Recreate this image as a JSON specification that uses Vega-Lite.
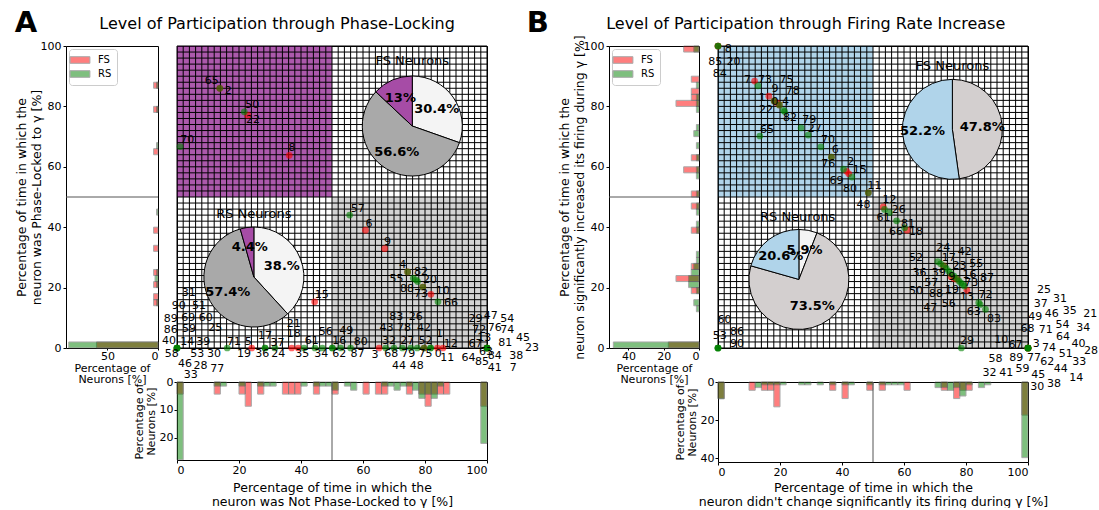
{
"$schema": "https://vega.github.io/schema/vega-lite/v6.json",
"padding": {"left": 14, "top": 8, "right": 0, "bottom": 0},
"config": {
  "font": "DejaVu Sans",
  "view": {"stroke": "black", "strokeWidth": 1},
  "axis": {"labelFontSize": 11, "labelColor": "#000", "tickColor": "#000", "domain": false, "tickSize": 3, "labelPadding": 1, "titleFontWeight": "normal", "titleColor": "#000", "grid": false, "labelFont": "DejaVu Sans", "titleFont": "DejaVu Sans"},
  "text": {"font": "DejaVu Sans"}
},
"datasets": {
  "gr": [{"g":0},{"g":2},{"g":4},{"g":6},{"g":8},{"g":10},{"g":12},{"g":14},{"g":16},{"g":18},{"g":20},{"g":22},{"g":24},{"g":26},{"g":28},{"g":30},{"g":32},{"g":34},{"g":36},{"g":38},{"g":40},{"g":42},{"g":44},{"g":46},{"g":48},{"g":50},{"g":52},{"g":54},{"g":56},{"g":58},{"g":60},{"g":62},{"g":64},{"g":66},{"g":68},{"g":70},{"g":72},{"g":74},{"g":76},{"g":78},{"g":80},{"g":82},{"g":84},{"g":86},{"g":88},{"g":90},{"g":92},{"g":94},{"g":96},{"g":98},{"g":100}],
  "hAL": [
    {"t":"FS","lo":86,"hi":88,"p":4.35},{"t":"FS","lo":78,"hi":80,"p":4.35},{"t":"FS","lo":64,"hi":66,"p":4.35},{"t":"FS","lo":38,"hi":40,"p":4.35},{"t":"FS","lo":32,"hi":34,"p":4.35},{"t":"FS","lo":24,"hi":26,"p":4.35},{"t":"FS","lo":20,"hi":22,"p":4.35},{"t":"FS","lo":16,"hi":18,"p":4.35},{"t":"FS","lo":14,"hi":16,"p":4.35},{"t":"FS","lo":0,"hi":2,"p":60.87},
    {"t":"RS","lo":86,"hi":88,"p":1.47},{"t":"RS","lo":78,"hi":80,"p":1.47},{"t":"RS","lo":66,"hi":68,"p":1.47},{"t":"RS","lo":44,"hi":46,"p":1.47},{"t":"RS","lo":24,"hi":26,"p":1.47},{"t":"RS","lo":22,"hi":24,"p":2.94},{"t":"RS","lo":20,"hi":22,"p":1.47},{"t":"RS","lo":14,"hi":16,"p":1.47},{"t":"RS","lo":0,"hi":2,"p":88.24}
  ],
  "hAB": [
    {"t":"FS","lo":0,"hi":2,"p":4.35},{"t":"FS","lo":12,"hi":14,"p":4.35},{"t":"FS","lo":20,"hi":22,"p":4.35},{"t":"FS","lo":22,"hi":24,"p":8.70},{"t":"FS","lo":26,"hi":28,"p":4.35},{"t":"FS","lo":34,"hi":36,"p":4.35},{"t":"FS","lo":36,"hi":38,"p":4.35},{"t":"FS","lo":38,"hi":40,"p":4.35},{"t":"FS","lo":44,"hi":46,"p":4.35},{"t":"FS","lo":50,"hi":52,"p":4.35},{"t":"FS","lo":60,"hi":62,"p":4.35},{"t":"FS","lo":64,"hi":66,"p":4.35},{"t":"FS","lo":66,"hi":68,"p":4.35},{"t":"FS","lo":74,"hi":76,"p":4.35},{"t":"FS","lo":78,"hi":80,"p":4.35},{"t":"FS","lo":80,"hi":82,"p":8.70},{"t":"FS","lo":82,"hi":84,"p":4.35},{"t":"FS","lo":84,"hi":86,"p":4.35},{"t":"FS","lo":86,"hi":88,"p":4.35},{"t":"FS","lo":98,"hi":100,"p":8.70},
    {"t":"RS","lo":0,"hi":2,"p":27.94},{"t":"RS","lo":12,"hi":14,"p":1.47},{"t":"RS","lo":14,"hi":16,"p":1.47},{"t":"RS","lo":20,"hi":22,"p":1.47},{"t":"RS","lo":26,"hi":28,"p":1.47},{"t":"RS","lo":28,"hi":30,"p":1.47},{"t":"RS","lo":30,"hi":32,"p":1.47},{"t":"RS","lo":40,"hi":42,"p":1.47},{"t":"RS","lo":44,"hi":46,"p":1.47},{"t":"RS","lo":46,"hi":48,"p":1.47},{"t":"RS","lo":48,"hi":50,"p":1.47},{"t":"RS","lo":50,"hi":52,"p":2.94},{"t":"RS","lo":54,"hi":56,"p":1.47},{"t":"RS","lo":56,"hi":58,"p":2.94},{"t":"RS","lo":66,"hi":68,"p":1.47},{"t":"RS","lo":68,"hi":70,"p":1.47},{"t":"RS","lo":70,"hi":72,"p":2.94},{"t":"RS","lo":72,"hi":74,"p":1.47},{"t":"RS","lo":74,"hi":76,"p":1.47},{"t":"RS","lo":76,"hi":78,"p":2.94},{"t":"RS","lo":78,"hi":80,"p":5.88},{"t":"RS","lo":80,"hi":82,"p":4.41},{"t":"RS","lo":82,"hi":84,"p":5.88},{"t":"RS","lo":84,"hi":86,"p":1.47},{"t":"RS","lo":98,"hi":100,"p":22.06}
  ],
  "hBL": [
    {"t":"FS","lo":98,"hi":100,"p":8.70},{"t":"FS","lo":88,"hi":90,"p":4.35},{"t":"FS","lo":84,"hi":86,"p":4.35},{"t":"FS","lo":82,"hi":84,"p":4.35},{"t":"FS","lo":80,"hi":82,"p":13.04},{"t":"FS","lo":62,"hi":64,"p":4.35},{"t":"FS","lo":58,"hi":60,"p":8.70},{"t":"FS","lo":50,"hi":52,"p":4.35},{"t":"FS","lo":46,"hi":48,"p":4.35},{"t":"FS","lo":38,"hi":40,"p":4.35},{"t":"FS","lo":26,"hi":28,"p":4.35},{"t":"FS","lo":22,"hi":24,"p":13.04},{"t":"FS","lo":18,"hi":20,"p":4.35},{"t":"FS","lo":0,"hi":2,"p":17.39},
    {"t":"RS","lo":98,"hi":100,"p":2.94},{"t":"RS","lo":86,"hi":88,"p":1.47},{"t":"RS","lo":82,"hi":84,"p":1.47},{"t":"RS","lo":80,"hi":82,"p":1.47},{"t":"RS","lo":78,"hi":80,"p":1.47},{"t":"RS","lo":72,"hi":74,"p":1.47},{"t":"RS","lo":70,"hi":72,"p":2.94},{"t":"RS","lo":66,"hi":68,"p":1.47},{"t":"RS","lo":62,"hi":64,"p":1.47},{"t":"RS","lo":58,"hi":60,"p":1.47},{"t":"RS","lo":56,"hi":58,"p":1.47},{"t":"RS","lo":50,"hi":52,"p":1.47},{"t":"RS","lo":46,"hi":48,"p":1.47},{"t":"RS","lo":44,"hi":46,"p":1.47},{"t":"RS","lo":40,"hi":42,"p":1.47},{"t":"RS","lo":38,"hi":40,"p":1.47},{"t":"RS","lo":30,"hi":32,"p":1.47},{"t":"RS","lo":28,"hi":30,"p":1.47},{"t":"RS","lo":26,"hi":28,"p":2.94},{"t":"RS","lo":24,"hi":26,"p":4.41},{"t":"RS","lo":22,"hi":24,"p":5.88},{"t":"RS","lo":20,"hi":22,"p":5.88},{"t":"RS","lo":18,"hi":20,"p":1.47},{"t":"RS","lo":14,"hi":16,"p":2.94},{"t":"RS","lo":12,"hi":14,"p":1.47},{"t":"RS","lo":0,"hi":2,"p":48.53}
  ],
  "hBB": [
    {"t":"FS","lo":0,"hi":2,"p":8.70},{"t":"FS","lo":10,"hi":12,"p":4.35},{"t":"FS","lo":14,"hi":16,"p":4.35},{"t":"FS","lo":16,"hi":18,"p":4.35},{"t":"FS","lo":18,"hi":20,"p":13.04},{"t":"FS","lo":36,"hi":38,"p":4.35},{"t":"FS","lo":40,"hi":42,"p":8.70},{"t":"FS","lo":48,"hi":50,"p":4.35},{"t":"FS","lo":52,"hi":54,"p":4.35},{"t":"FS","lo":60,"hi":62,"p":4.35},{"t":"FS","lo":72,"hi":74,"p":4.35},{"t":"FS","lo":76,"hi":78,"p":8.70},{"t":"FS","lo":78,"hi":80,"p":4.35},{"t":"FS","lo":80,"hi":82,"p":4.35},{"t":"FS","lo":98,"hi":100,"p":17.39},
    {"t":"RS","lo":0,"hi":2,"p":8.82},{"t":"RS","lo":12,"hi":14,"p":2.94},{"t":"RS","lo":14,"hi":16,"p":1.47},{"t":"RS","lo":16,"hi":18,"p":1.47},{"t":"RS","lo":18,"hi":20,"p":1.47},{"t":"RS","lo":20,"hi":22,"p":1.47},{"t":"RS","lo":26,"hi":28,"p":1.47},{"t":"RS","lo":28,"hi":30,"p":1.47},{"t":"RS","lo":32,"hi":34,"p":1.47},{"t":"RS","lo":36,"hi":38,"p":1.47},{"t":"RS","lo":40,"hi":42,"p":1.47},{"t":"RS","lo":42,"hi":44,"p":1.47},{"t":"RS","lo":48,"hi":50,"p":1.47},{"t":"RS","lo":52,"hi":54,"p":1.47},{"t":"RS","lo":54,"hi":56,"p":1.47},{"t":"RS","lo":56,"hi":58,"p":1.47},{"t":"RS","lo":58,"hi":60,"p":1.47},{"t":"RS","lo":70,"hi":72,"p":2.94},{"t":"RS","lo":72,"hi":74,"p":2.94},{"t":"RS","lo":74,"hi":76,"p":4.41},{"t":"RS","lo":76,"hi":78,"p":2.94},{"t":"RS","lo":78,"hi":80,"p":7.35},{"t":"RS","lo":80,"hi":82,"p":1.47},{"t":"RS","lo":84,"hi":86,"p":2.94},{"t":"RS","lo":86,"hi":88,"p":1.47},{"t":"RS","lo":98,"hi":100,"p":39.71}
  ],
  "qA": [{"c":"QP","x1":0,"x2":50,"y1":50,"y2":100},{"c":"QG","x1":50,"x2":100,"y1":0,"y2":50}],
  "qB": [{"c":"QB","x1":0,"x2":50,"y1":50,"y2":100},{"c":"QG","x1":50,"x2":100,"y1":0,"y2":50}],
  "pA": [
    {"t":"FS","x":13.8,"y":86},{"t":"FS","x":22.8,"y":77.1},{"t":"FS","x":36.2,"y":63.8},{"t":"FS","x":60.8,"y":39},{"t":"FS","x":67,"y":32.9},{"t":"FS","x":74.4,"y":25.2},{"t":"FS","x":79.3,"y":20.2},{"t":"FS","x":81.9,"y":17.8},{"t":"FS","x":44.4,"y":15.3},
    {"t":"FS","x":24.1,"y":0},{"t":"FS","x":37,"y":0},{"t":"FS","x":39.1,"y":0},{"t":"FS","x":65.2,"y":0},{"t":"FS","x":79.7,"y":0},{"t":"FS","x":84,"y":0},{"t":"FS","x":85.8,"y":0},{"t":"FS","x":100,"y":0},{"t":"FS","x":100,"y":0},
    {"t":"RS","x":13.8,"y":86},{"t":"RS","x":21.7,"y":78.2},{"t":"RS","x":1,"y":66.7},{"t":"RS","x":55.7,"y":44},{"t":"RS","x":74.4,"y":25.2},{"t":"RS","x":76.2,"y":23.1},{"t":"RS","x":77.6,"y":22},{"t":"RS","x":77.1,"y":22.6},{"t":"RS","x":79.3,"y":20.2},{"t":"RS","x":84.2,"y":15.3},
    {"t":"RS","x":0,"y":0},{"t":"RS","x":0,"y":0},{"t":"RS","x":0,"y":0},{"t":"RS","x":0,"y":0},{"t":"RS","x":0,"y":0},
    {"t":"RS","x":16.2,"y":0},{"t":"RS","x":28.4,"y":0},{"t":"RS","x":28.4,"y":0},{"t":"RS","x":31.6,"y":0},{"t":"RS","x":41,"y":0},{"t":"RS","x":44.5,"y":0},{"t":"RS","x":46.9,"y":0},{"t":"RS","x":50.1,"y":0},{"t":"RS","x":50.1,"y":0},{"t":"RS","x":52.8,"y":0},{"t":"RS","x":56,"y":0},{"t":"RS","x":67.3,"y":0},{"t":"RS","x":70,"y":0},{"t":"RS","x":72.7,"y":0},{"t":"RS","x":75.4,"y":0},{"t":"RS","x":77.5,"y":0},{"t":"RS","x":79.7,"y":0},{"t":"RS","x":81.8,"y":0},{"t":"RS","x":81.8,"y":0},
    {"t":"RS","x":100,"y":0},{"t":"RS","x":100,"y":0},{"t":"RS","x":100,"y":0},{"t":"RS","x":100,"y":0},{"t":"RS","x":100,"y":0}
  ],
  "pB": [
    {"t":"FS","x":0,"y":100},{"t":"FS","x":0,"y":100},{"t":"FS","x":11.8,"y":88.4},{"t":"FS","x":16.4,"y":83.4},{"t":"FS","x":18.1,"y":81.8},{"t":"FS","x":19.8,"y":80.5},{"t":"FS","x":19,"y":81.2},{"t":"FS","x":36.6,"y":63.2},{"t":"FS","x":42.2,"y":57.7},{"t":"FS","x":41.5,"y":58.5},{"t":"FS","x":48.5,"y":51.4},{"t":"FS","x":53.3,"y":46.7},{"t":"FS","x":61,"y":39},{"t":"FS","x":72.8,"y":27.2},{"t":"FS","x":75.2,"y":23.6},{"t":"FS","x":76.1,"y":23},{"t":"FS","x":77,"y":22.8},{"t":"FS","x":80.3,"y":19.1},{"t":"FS","x":100,"y":0},{"t":"FS","x":100,"y":0},{"t":"FS","x":100,"y":0},{"t":"FS","x":100,"y":0},
    {"t":"RS","x":0,"y":100},{"t":"RS","x":0,"y":100},{"t":"RS","x":12.9,"y":86.8},{"t":"RS","x":18.1,"y":81.8},{"t":"RS","x":19.8,"y":80.5},{"t":"RS","x":21.1,"y":78.7},{"t":"RS","x":21.5,"y":78.3},{"t":"RS","x":13.5,"y":70.2},{"t":"RS","x":26.8,"y":72.9},{"t":"RS","x":29.1,"y":70.5},{"t":"RS","x":33.2,"y":66.6},{"t":"RS","x":36.6,"y":63.2},{"t":"RS","x":40.5,"y":59.2},{"t":"RS","x":43.2,"y":56.6},{"t":"RS","x":48.5,"y":51.4},{"t":"RS","x":53.7,"y":45.9},{"t":"RS","x":55.3,"y":44.8},{"t":"RS","x":57.6,"y":42.1},{"t":"RS","x":60.2,"y":39.8},
    {"t":"RS","x":70.9,"y":28.6},{"t":"RS","x":71.8,"y":27.9},{"t":"RS","x":72.8,"y":27.2},{"t":"RS","x":73.6,"y":26.4},{"t":"RS","x":74.4,"y":25.5},{"t":"RS","x":75.2,"y":24.6},{"t":"RS","x":76.1,"y":23.8},{"t":"RS","x":76.9,"y":23},{"t":"RS","x":77.7,"y":22.2},{"t":"RS","x":78.3,"y":21.6},{"t":"RS","x":79,"y":21.1},{"t":"RS","x":79.5,"y":20.5},{"t":"RS","x":84.1,"y":15},{"t":"RS","x":84.6,"y":14.4},{"t":"RS","x":86.3,"y":12.8},{"t":"RS","x":78.5,"y":0},
    {"t":"RS","x":0,"y":0},{"t":"RS","x":0,"y":0},{"t":"RS","x":0,"y":0},{"t":"RS","x":0,"y":0},
    {"t":"RS","x":100,"y":0},{"t":"RS","x":100,"y":0},{"t":"RS","x":100,"y":0},{"t":"RS","x":100,"y":0},{"t":"RS","x":100,"y":0},{"t":"RS","x":100,"y":0}
  ],
  "lA": [
    {"id":"65","lx":11.2,"ly":88.4},{"id":"2","lx":16.5,"ly":85.1},{"id":"50","lx":24.3,"ly":80.5},{"id":"22","lx":24.5,"ly":75.4},{"id":"70","lx":3.3,"ly":68.8},{"id":"8","lx":37.1,"ly":66.3},{"id":"57","lx":58.3,"ly":45.9},{"id":"6","lx":61.9,"ly":41.2},{"id":"9","lx":67.9,"ly":35.2},{"id":"4","lx":72.8,"ly":27.5},{"id":"55","lx":70.8,"ly":22.7},{"id":"82","lx":78.7,"ly":25.2},{"id":"88","lx":74.2,"ly":19.4},{"id":"20","lx":81.6,"ly":22.4},{"id":"73","lx":78.7,"ly":17.8},{"id":"10","lx":85.7,"ly":18.9},{"id":"66","lx":88.4,"ly":15},{"id":"15","lx":46.7,"ly":17.5},
    {"id":"31","lx":3.8,"ly":18.3},{"id":"90","lx":0.6,"ly":13.9},{"id":"51","lx":7.1,"ly":13.9},{"id":"89","lx":-2,"ly":9.5},{"id":"69","lx":3.6,"ly":10},{"id":"60","lx":9.3,"ly":9.8},{"id":"86","lx":-2,"ly":5.9},{"id":"59","lx":3.9,"ly":6.2},{"id":"25","lx":12.3,"ly":6.5},{"id":"40","lx":-2.6,"ly":2.3},{"id":"14","lx":3.3,"ly":2.1},{"id":"39","lx":8.5,"ly":2.1},{"id":"58","lx":-1.7,"ly":-2.1},{"id":"53","lx":6.5,"ly":-2.1},{"id":"30","lx":11.9,"ly":-2.1},{"id":"46","lx":2.6,"ly":-5.2},{"id":"28","lx":7.6,"ly":-6},{"id":"77","lx":13,"ly":-6.9},{"id":"33","lx":4.4,"ly":-8.9},
    {"id":"71","lx":18.4,"ly":2.1},{"id":"5","lx":23,"ly":2.1},{"id":"19","lx":21.6,"ly":-2.1},{"id":"17","lx":28.4,"ly":4},{"id":"37","lx":32.4,"ly":1.6},{"id":"36","lx":27.5,"ly":-2.1},{"id":"24","lx":32.7,"ly":-2.1},{"id":"21","lx":37.7,"ly":7.8},{"id":"18","lx":37.7,"ly":4.5},{"id":"35","lx":40.4,"ly":-2.1},{"id":"61","lx":43.5,"ly":2.3},{"id":"56","lx":48,"ly":5.4},{"id":"34","lx":46.5,"ly":-2.1},{"id":"49","lx":54.6,"ly":5.6},{"id":"16","lx":52.3,"ly":2.3},{"id":"62","lx":52.3,"ly":-2.1},{"id":"80","lx":59.3,"ly":2.1},{"id":"87","lx":58.2,"ly":-2.1},{"id":"3","lx":63.9,"ly":-2.3},
    {"id":"83","lx":70.7,"ly":10.3},{"id":"26","lx":77,"ly":10.3},{"id":"43","lx":67.6,"ly":6.7},{"id":"78","lx":73.2,"ly":6.7},{"id":"42","lx":79.7,"ly":6.7},{"id":"32","lx":68.4,"ly":2.3},{"id":"27","lx":74.3,"ly":2.3},{"id":"52","lx":80.2,"ly":2.3},{"id":"1","lx":84.7,"ly":4.5},{"id":"68","lx":69.1,"ly":-2.1},{"id":"79","lx":74.6,"ly":-2.1},{"id":"75","lx":80.2,"ly":-2.1},{"id":"0","lx":84.3,"ly":-2.1},{"id":"12","lx":88.3,"ly":1.4},{"id":"11","lx":87.2,"ly":-3.2},{"id":"44","lx":71.6,"ly":-6},{"id":"48","lx":77.3,"ly":-6},
    {"id":"29","lx":96.3,"ly":9.5},{"id":"47","lx":101.2,"ly":10.6},{"id":"54","lx":106.5,"ly":9.7},{"id":"72","lx":97.5,"ly":5.9},{"id":"76","lx":102.5,"ly":6.7},{"id":"74","lx":106.5,"ly":5.9},{"id":"13","lx":99.1,"ly":3.4},{"id":"45","lx":111.6,"ly":3.4},{"id":"67","lx":96.3,"ly":1.2},{"id":"81","lx":105.9,"ly":1.8},{"id":"23","lx":114.5,"ly":-0.1},{"id":"64","lx":94,"ly":-3.2},{"id":"63","lx":99.7,"ly":-1.2},{"id":"84","lx":102.5,"ly":-2.6},{"id":"38","lx":109.4,"ly":-2.6},{"id":"85","lx":98.4,"ly":-4.5},{"id":"41","lx":102.5,"ly":-6.5},{"id":"7","lx":108.5,"ly":-6.5}
  ],
  "lB": [
    {"id":"8","lx":3.3,"ly":99.1},{"id":"85","lx":-0.9,"ly":94.7},{"id":"20","lx":5,"ly":94.7},{"id":"84","lx":0.6,"ly":90.8},{"id":"7","lx":9.5,"ly":88.6},{"id":"73","lx":15.2,"ly":88.6},{"id":"75","lx":22.1,"ly":88.6},{"id":"9","lx":18.4,"ly":85.7},{"id":"78","lx":24.1,"ly":85.1},{"id":"1","lx":14.3,"ly":82.9},{"id":"0","lx":18.4,"ly":81.6},{"id":"4","lx":21.8,"ly":81.6},{"id":"22","lx":15.5,"ly":78.7},{"id":"82","lx":23.2,"ly":76.3},{"id":"79","lx":29.4,"ly":75.4},{"id":"27","lx":31.2,"ly":72.4},{"id":"65","lx":15.8,"ly":72.1},{"id":"70","lx":35.5,"ly":68.8},{"id":"6","lx":37.8,"ly":65.5},{"id":"76","lx":35.6,"ly":60.8},{"id":"2","lx":42.8,"ly":61.7},{"id":"15","lx":45.7,"ly":58.8},{"id":"69","lx":38.2,"ly":55.3},{"id":"80","lx":42.6,"ly":52.5},{"id":"11","lx":50.5,"ly":53.6},{"id":"48","lx":46.9,"ly":47.4},{"id":"12","lx":55.3,"ly":48.9},{"id":"61","lx":53.4,"ly":43.1},{"id":"26","lx":58.3,"ly":45.6},{"id":"81","lx":61.3,"ly":41},{"id":"66","lx":57.4,"ly":38.5},{"id":"18","lx":63.9,"ly":38.5},
    {"id":"24","lx":72.7,"ly":33},{"id":"42","lx":79.6,"ly":31.8},{"id":"52","lx":63.9,"ly":29.7},{"id":"17","lx":74.4,"ly":29.9},{"id":"23","lx":77.9,"ly":27.2},{"id":"55","lx":83.3,"ly":27.9},{"id":"36","lx":65,"ly":24.9},{"id":"39","lx":71.2,"ly":24.9},{"id":"9","lx":75.5,"ly":23.5},{"id":"16","lx":81.1,"ly":24.2},{"id":"87","lx":86.8,"ly":23.3},{"id":"57","lx":68.8,"ly":21.6},{"id":"73","lx":81.7,"ly":21.4},{"id":"19","lx":75.5,"ly":19.1},{"id":"50","lx":63.9,"ly":18.9},{"id":"88","lx":70.3,"ly":17.8},{"id":"13","lx":80.3,"ly":16.9},{"id":"72","lx":86.3,"ly":17.5},{"id":"47","lx":68.5,"ly":13.1},{"id":"56","lx":74.4,"ly":14.5},{"id":"63","lx":82.5,"ly":12},{"id":"83","lx":89,"ly":9.7},{"id":"29","lx":80.3,"ly":2.3},{"id":"10","lx":91.4,"ly":2.5},{"id":"67","lx":96,"ly":1},
    {"id":"60","lx":2.1,"ly":9.2},{"id":"86","lx":6.1,"ly":5.4},{"id":"53","lx":0.6,"ly":4},{"id":"90","lx":6.1,"ly":1.4},
    {"id":"25","lx":105.2,"ly":19.1},{"id":"31","lx":110.3,"ly":16.1},{"id":"37","lx":104.1,"ly":14.5},{"id":"35","lx":113.5,"ly":12.3},{"id":"49","lx":102.3,"ly":10.3},{"id":"46","lx":107.7,"ly":11.2},{"id":"21","lx":120.1,"ly":11.4},{"id":"54","lx":111.1,"ly":7.6},{"id":"34","lx":117.8,"ly":6.5},{"id":"68","lx":99.8,"ly":6.2},{"id":"71","lx":105.7,"ly":6},{"id":"64","lx":111.3,"ly":3.6},{"id":"40","lx":116.3,"ly":1.4},{"id":"28","lx":120.3,"ly":-1},{"id":"3","lx":102.7,"ly":1.2},{"id":"74","lx":106.8,"ly":0.1},{"id":"51","lx":112.2,"ly":-1.9},{"id":"33","lx":116.5,"ly":-4.6},{"id":"58","lx":89.5,"ly":-3.7},{"id":"89","lx":96.2,"ly":-3.2},{"id":"77","lx":101.9,"ly":-3.4},{"id":"62","lx":106.2,"ly":-4.5},{"id":"44","lx":110.6,"ly":-7.1},{"id":"14","lx":115.6,"ly":-9.8},{"id":"32","lx":87.6,"ly":-8.2},{"id":"41","lx":93,"ly":-8.2},{"id":"59","lx":98.2,"ly":-7.1},{"id":"45","lx":103.3,"ly":-8.9},{"id":"38","lx":108.4,"ly":-11.8},{"id":"30","lx":103,"ly":-12.9}
  ],
  "pieAF": [{"c":"W","v":30.4,"o":1,"lab":"30.4%"},{"c":"G","v":56.6,"o":2,"lab":"56.6%"},{"c":"P","v":13.0,"o":3,"lab":"13%"}],
  "pieAR": [{"c":"W","v":38.2,"o":1,"lab":"38.%"},{"c":"G","v":57.4,"o":2,"lab":"57.4%"},{"c":"P","v":4.4,"o":3,"lab":"4.4%"}],
  "pieBF": [{"c":"G2","v":47.8,"o":1,"lab":"47.8%"},{"c":"B","v":52.2,"o":2,"lab":"52.2%"}],
  "pieBR": [{"c":"W","v":5.9,"o":1,"lab":"5.9%"},{"c":"G2","v":73.5,"o":2,"lab":"73.5%"},{"c":"B","v":20.6,"o":3,"lab":"20.6%"}]
},
"columns": 5,
"spacing": {"row": 34, "column": 19},
"bounds": "flush",
"align": "each",
"resolve": {"scale": {"color": "independent", "opacity": "independent", "theta": "independent"}, "legend": {"color": "independent"}},
"concat": [
  {
    "width": 92, "height": 302,
    "layer": [
      {"data": {"name": "hAL"}, "mark": {"type": "bar", "opacity": 0.5, "stroke": "#555", "strokeWidth": 1},
       "encoding": {
         "y": {"field": "lo", "type": "quantitative", "scale": {"domain": [0, 100], "nice": false}, "axis": {"values": [0, 20, 40, 60, 80, 100], "title": ["Percentage of time in which the", "neuron was Phase-Locked to γ [%]"], "titleFontSize": 12.5, "titleLineHeight": 14.5, "titlePadding": -3, "labelPadding": 2}},
         "y2": {"field": "hi"},
         "x": {"field": "p", "type": "quantitative", "stack": null, "scale": {"domain": [0, 91], "reverse": true, "nice": false, "zero": false}, "axis": {"values": [0, 50], "title": ["Percentage of", "Neurons [%]"], "titleFontSize": 11, "titleLineHeight": 11.5, "titlePadding": 1, "labelPadding": 0, "tickSize": 2}},
         "x2": {"datum": 0},
         "color": {"field": "t", "type": "nominal", "scale": {"domain": ["FS", "RS"], "range": ["#ff0000", "#008000"]},
           "legend": {"orient": "top-left", "offset": 3, "title": null, "padding": 5, "strokeColor": "#cccccc", "fillColor": "white", "cornerRadius": 3, "symbolType": "M-1.8,-0.6H1.8V0.6H-1.8Z", "symbolSize": 121, "symbolOpacity": 0.5, "symbolStrokeColor": "#555", "symbolStrokeWidth": 1, "labelFontSize": 10, "rowPadding": 2, "labelOffset": 12}}
       }},
      {"data": {"values": [{}]}, "mark": {"type": "rule", "color": "#555", "strokeWidth": 1}, "encoding": {"y": {"datum": 50, "type": "quantitative"}}}
    ]
  },
  {
    "width": 310, "height": 302,
    "layer": [
      {"data": {"name": "qA"}, "mark": {"type": "rect"},
       "encoding": {
         "x": {"field": "x1", "type": "quantitative", "scale": {"domain": [0, 100], "nice": false, "zero": false}, "axis": null},
         "x2": {"field": "x2"},
         "y": {"field": "y1", "type": "quantitative", "scale": {"domain": [0, 100], "nice": false, "zero": false}, "axis": null},
         "y2": {"field": "y2"},
         "color": {"field": "c", "type": "nominal", "scale": {"domain": ["FS","RS","W","G","P","QP","QG"], "range": ["#ff0000","#008000","#f4f4f4","#a9a9a9","#a64ca6","#800080","#808080"]}, "legend": null},
         "opacity": {"field": "c", "type": "nominal", "scale": {"domain": ["QP","QG"], "range": [0.65, 0.35]}, "legend": null}
       }},
      {"data": {"name": "gr"}, "mark": {"type": "rule", "color": "#000", "strokeWidth": 1}, "encoding": {"x": {"field": "g", "type": "quantitative", "scale": {"domain": [0, 100]}, "axis": null}}},
      {"data": {"name": "gr"}, "mark": {"type": "rule", "color": "#000", "strokeWidth": 1}, "encoding": {"y": {"field": "g", "type": "quantitative", "scale": {"domain": [0, 100]}, "axis": null}}},
      {"data": {"name": "pA"}, "mark": {"type": "circle", "size": 45, "opacity": 0.6},
       "encoding": {
         "x": {"field": "x", "type": "quantitative", "scale": {"domain": [0, 100]}, "axis": null},
         "y": {"field": "y", "type": "quantitative", "scale": {"domain": [0, 100]}, "axis": null},
         "color": {"field": "t", "type": "nominal", "legend": null}
       }},
      {"data": {"name": "lA"}, "mark": {"type": "text", "fontSize": 11, "color": "#000"},
       "encoding": {
         "x": {"field": "lx", "type": "quantitative", "scale": {"domain": [0, 100]}, "axis": null},
         "y": {"field": "ly", "type": "quantitative", "scale": {"domain": [0, 100]}, "axis": null},
         "text": {"field": "id"}
       }},
      {"data": {"name": "pieAF"},
       "encoding": {
         "x": {"datum": 75.9, "type": "quantitative", "axis": null}, "y": {"datum": 73.5, "type": "quantitative", "axis": null},
         "theta": {"field": "v", "type": "quantitative", "stack": true},
         "order": {"field": "o"},
         "color": {"field": "c", "type": "nominal", "legend": null}
       },
       "layer": [
         {"mark": {"type": "arc", "outerRadius": 50, "stroke": "#000", "strokeWidth": 1}},
         {"mark": {"type": "text", "radius": 30, "fontSize": 13, "fontWeight": "bold"}, "encoding": {"text": {"field": "lab"}, "color": {"value": "#000"}, "detail": {"field": "c"}}}
       ]},
      {"data": {"name": "pieAR"},
       "encoding": {
         "x": {"datum": 24.8, "type": "quantitative", "axis": null}, "y": {"datum": 23.5, "type": "quantitative", "axis": null},
         "theta": {"field": "v", "type": "quantitative", "stack": true},
         "order": {"field": "o"},
         "color": {"field": "c", "type": "nominal", "legend": null}
       },
       "layer": [
         {"mark": {"type": "arc", "outerRadius": 50, "stroke": "#000", "strokeWidth": 1}},
         {"mark": {"type": "text", "radius": 30, "fontSize": 13, "fontWeight": "bold"}, "encoding": {"text": {"field": "lab"}, "color": {"value": "#000"}, "detail": {"field": "c"}}}
       ]},
      {"data": {"values": [{}]}, "mark": {"type": "text", "text": "FS Neurons", "fontSize": 13, "color": "#000"}, "encoding": {"x": {"datum": 75.9, "type": "quantitative", "axis": null}, "y": {"datum": 95, "type": "quantitative", "axis": null}}},
      {"data": {"values": [{}]}, "mark": {"type": "text", "text": "RS Neurons", "fontSize": 13, "color": "#000"}, "encoding": {"x": {"datum": 24.8, "type": "quantitative", "axis": null}, "y": {"datum": 44.5, "type": "quantitative", "axis": null}}},
      {"data": {"values": [{}]}, "mark": {"type": "text", "text": "Level of Participation through Phase-Locking", "fontSize": 16, "color": "#000", "align": "center", "baseline": "middle"}, "encoding": {"x": {"datum": 32.3, "type": "quantitative", "axis": null}, "y": {"datum": 107.4, "type": "quantitative", "axis": null}}},
      {"data": {"values": [{}]}, "mark": {"type": "text", "text": "A", "fontSize": 29, "fontWeight": "bold", "color": "#000", "align": "center", "baseline": "middle"}, "encoding": {"x": {"datum": -48.7, "type": "quantitative", "axis": null}, "y": {"datum": 107.5, "type": "quantitative", "axis": null}}}
    ]
  },
  {"width": 84, "height": 1, "view": {"stroke": null}, "data": {"values": [{}]}, "mark": {"type": "text", "text": " "}},
  {
    "width": 90, "height": 302,
    "layer": [
      {"data": {"name": "hBL"}, "mark": {"type": "bar", "opacity": 0.5, "stroke": "#555", "strokeWidth": 1},
       "encoding": {
         "y": {"field": "lo", "type": "quantitative", "scale": {"domain": [0, 100], "nice": false}, "axis": {"values": [0, 20, 40, 60, 80, 100], "title": ["Percentage of time in which the", "neuron significantly increased its firing during γ [%]"], "titleFontSize": 12.5, "titleLineHeight": 14.5, "titlePadding": -3, "labelPadding": 2}},
         "y2": {"field": "hi"},
         "x": {"field": "p", "type": "quantitative", "stack": null, "scale": {"domain": [0, 51], "reverse": true, "nice": false, "zero": false}, "axis": {"values": [0, 20, 40], "title": ["Percentage of", "Neurons [%]"], "titleFontSize": 11, "titleLineHeight": 11.5, "titlePadding": 1, "labelPadding": 0, "tickSize": 2}},
         "x2": {"datum": 0},
         "color": {"field": "t", "type": "nominal", "scale": {"domain": ["FS", "RS"], "range": ["#ff0000", "#008000"]},
           "legend": {"orient": "top-left", "offset": 3, "title": null, "padding": 5, "strokeColor": "#cccccc", "fillColor": "white", "cornerRadius": 3, "symbolType": "M-1.8,-0.6H1.8V0.6H-1.8Z", "symbolSize": 121, "symbolOpacity": 0.5, "symbolStrokeColor": "#555", "symbolStrokeWidth": 1, "labelFontSize": 10, "rowPadding": 2, "labelOffset": 12}}
       }},
      {"data": {"values": [{}]}, "mark": {"type": "rule", "color": "#555", "strokeWidth": 1}, "encoding": {"y": {"datum": 50, "type": "quantitative"}}}
    ]
  },
  {
    "width": 310, "height": 302,
    "layer": [
      {"data": {"name": "qB"}, "mark": {"type": "rect"},
       "encoding": {
         "x": {"field": "x1", "type": "quantitative", "scale": {"domain": [0, 100], "nice": false, "zero": false}, "axis": null},
         "x2": {"field": "x2"},
         "y": {"field": "y1", "type": "quantitative", "scale": {"domain": [0, 100], "nice": false, "zero": false}, "axis": null},
         "y2": {"field": "y2"},
         "color": {"field": "c", "type": "nominal", "scale": {"domain": ["FS","RS","W","G2","B","QB","QG"], "range": ["#ff0000","#008000","#f4f4f4","#d3cfcf","#b0d4ea","#1d84c3","#808080"]}, "legend": null},
         "opacity": {"field": "c", "type": "nominal", "scale": {"domain": ["QB","QG"], "range": [0.35, 0.36]}, "legend": null}
       }},
      {"data": {"name": "gr"}, "mark": {"type": "rule", "color": "#000", "strokeWidth": 1}, "encoding": {"x": {"field": "g", "type": "quantitative", "scale": {"domain": [0, 100]}, "axis": null}}},
      {"data": {"name": "gr"}, "mark": {"type": "rule", "color": "#000", "strokeWidth": 1}, "encoding": {"y": {"field": "g", "type": "quantitative", "scale": {"domain": [0, 100]}, "axis": null}}},
      {"data": {"name": "pB"}, "mark": {"type": "circle", "size": 45, "opacity": 0.6},
       "encoding": {
         "x": {"field": "x", "type": "quantitative", "scale": {"domain": [0, 100]}, "axis": null},
         "y": {"field": "y", "type": "quantitative", "scale": {"domain": [0, 100]}, "axis": null},
         "color": {"field": "t", "type": "nominal", "legend": null}
       }},
      {"data": {"name": "lB"}, "mark": {"type": "text", "fontSize": 11, "color": "#000"},
       "encoding": {
         "x": {"field": "lx", "type": "quantitative", "scale": {"domain": [0, 100]}, "axis": null},
         "y": {"field": "ly", "type": "quantitative", "scale": {"domain": [0, 100]}, "axis": null},
         "text": {"field": "id"}
       }},
      {"data": {"name": "pieBF"},
       "encoding": {
         "x": {"datum": 75.6, "type": "quantitative", "axis": null}, "y": {"datum": 72.4, "type": "quantitative", "axis": null},
         "theta": {"field": "v", "type": "quantitative", "stack": true},
         "order": {"field": "o"},
         "color": {"field": "c", "type": "nominal", "legend": null}
       },
       "layer": [
         {"mark": {"type": "arc", "outerRadius": 50, "stroke": "#000", "strokeWidth": 1}},
         {"mark": {"type": "text", "radius": 30, "fontSize": 13, "fontWeight": "bold"}, "encoding": {"text": {"field": "lab"}, "color": {"value": "#000"}, "detail": {"field": "c"}}}
       ]},
      {"data": {"name": "pieBR"},
       "encoding": {
         "x": {"datum": 26.1, "type": "quantitative", "axis": null}, "y": {"datum": 22.7, "type": "quantitative", "axis": null},
         "theta": {"field": "v", "type": "quantitative", "stack": true},
         "order": {"field": "o"},
         "color": {"field": "c", "type": "nominal", "legend": null}
       },
       "layer": [
         {"mark": {"type": "arc", "outerRadius": 50, "stroke": "#000", "strokeWidth": 1}},
         {"mark": {"type": "text", "radius": 30, "fontSize": 13, "fontWeight": "bold"}, "encoding": {"text": {"field": "lab"}, "color": {"value": "#000"}, "detail": {"field": "c"}}}
       ]},
      {"data": {"values": [{}]}, "mark": {"type": "text", "text": "FS Neurons", "fontSize": 13, "color": "#000"}, "encoding": {"x": {"datum": 75.6, "type": "quantitative", "axis": null}, "y": {"datum": 93.4, "type": "quantitative", "axis": null}}},
      {"data": {"values": [{}]}, "mark": {"type": "text", "text": "RS Neurons", "fontSize": 13, "color": "#000"}, "encoding": {"x": {"datum": 25.7, "type": "quantitative", "axis": null}, "y": {"datum": 43.4, "type": "quantitative", "axis": null}}},
      {"data": {"values": [{}]}, "mark": {"type": "text", "text": "Level of Participation through Firing Rate Increase", "fontSize": 16, "color": "#000", "align": "center", "baseline": "middle"}, "encoding": {"x": {"datum": 28.3, "type": "quantitative", "axis": null}, "y": {"datum": 107.4, "type": "quantitative", "axis": null}}},
      {"data": {"values": [{}]}, "mark": {"type": "text", "text": "B", "fontSize": 29, "fontWeight": "bold", "color": "#000", "align": "center", "baseline": "middle"}, "encoding": {"x": {"datum": -58.1, "type": "quantitative", "axis": null}, "y": {"datum": 107.5, "type": "quantitative", "axis": null}}}
    ]
  },
  {"width": 1, "height": 1, "view": {"stroke": null}, "data": {"values": [{}]}, "mark": {"type": "text", "text": " "}},
  {
    "width": 310, "height": 78,
    "layer": [
      {"data": {"name": "hAB"}, "mark": {"type": "bar", "opacity": 0.5, "stroke": "#555", "strokeWidth": 1},
       "encoding": {
         "x": {"field": "lo", "type": "quantitative", "scale": {"domain": [0, 100], "nice": false}, "axis": {"values": [0, 20, 40, 60, 80, 100], "title": ["Percentage of time in which the", "neuron was Not Phase-Locked to γ [%]"], "titleFontSize": 12.5, "titleLineHeight": 14, "titlePadding": 6}},
         "x2": {"field": "hi"},
         "y": {"field": "p", "type": "quantitative", "stack": null, "scale": {"domain": [0, 28], "reverse": true, "nice": false}, "axis": {"values": [0, 10, 20], "title": ["Percentage of", "Neurons [%]"], "titleFontSize": 11, "titleLineHeight": 11.5, "titlePadding": 3}},
         "y2": {"datum": 0},
         "color": {"field": "t", "type": "nominal", "scale": {"domain": ["FS", "RS"], "range": ["#ff0000", "#008000"]}, "legend": null}
       }},
      {"data": {"values": [{}]}, "mark": {"type": "rule", "color": "#555", "strokeWidth": 1}, "encoding": {"x": {"datum": 50, "type": "quantitative"}}}
    ]
  },
  {"width": 1, "height": 1, "view": {"stroke": null}, "data": {"values": [{}]}, "mark": {"type": "text", "text": " "}},
  {"width": 1, "height": 1, "view": {"stroke": null}, "data": {"values": [{}]}, "mark": {"type": "text", "text": " "}},
  {
    "width": 310, "height": 80,
    "layer": [
      {"data": {"name": "hBB"}, "mark": {"type": "bar", "opacity": 0.5, "stroke": "#555", "strokeWidth": 1},
       "encoding": {
         "x": {"field": "lo", "type": "quantitative", "scale": {"domain": [0, 100], "nice": false}, "axis": {"values": [0, 20, 40, 60, 80, 100], "title": ["Percentage of time in which the", "neuron didn't change significantly its firing during γ [%]"], "titleFontSize": 12.5, "titleLineHeight": 14, "titlePadding": 4}},
         "x2": {"field": "hi"},
         "y": {"field": "p", "type": "quantitative", "stack": null, "scale": {"domain": [0, 42], "reverse": true, "nice": false}, "axis": {"values": [0, 20, 40], "title": ["Percentage of", "Neurons [%]"], "titleFontSize": 11, "titleLineHeight": 11.5, "titlePadding": 3}},
         "y2": {"datum": 0},
         "color": {"field": "t", "type": "nominal", "scale": {"domain": ["FS", "RS"], "range": ["#ff0000", "#008000"]}, "legend": null}
       }},
      {"data": {"values": [{}]}, "mark": {"type": "rule", "color": "#555", "strokeWidth": 1}, "encoding": {"x": {"datum": 50, "type": "quantitative"}}}
    ]
  }
]
}
